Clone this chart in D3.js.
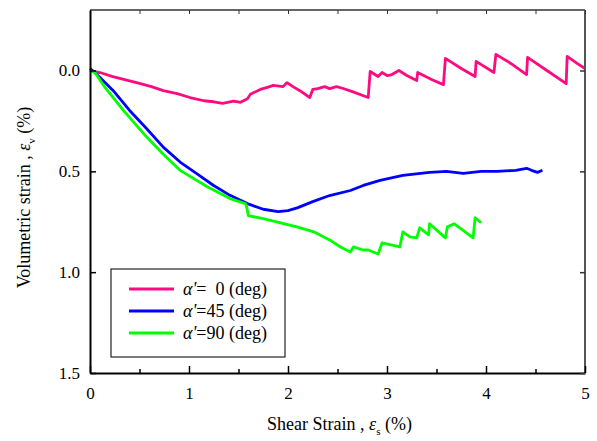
<!DOCTYPE html>
<html>
<head>
<meta charset="utf-8">
<script src="https://cdn.jsdelivr.net/npm/d3@7/dist/d3.min.js"></script>
<style>
  html, body { margin: 0; padding: 0; background: #fff; }
  svg { display: block; }
</style>
</head>
<body>
<svg id="chart" width="597" height="441" font-family="Liberation Serif"></svg>
<script>
// Volumetric vs. shear strain for three loading directions (alpha')
const seriesNames = ["0", "45", "90"];
const seriesColors = ["#ff0a80", "#0000ff", "#00ff00"];
const FONT = "Liberation Serif";

// [shear strain %, volumetric strain %]
const alpha0 = [
  [0.00, 0.00], [0.10, 0.01], [0.23, 0.03], [0.35, 0.045], [0.50, 0.064], [0.62, 0.08],
  [0.74, 0.10], [0.88, 0.115], [1.01, 0.134], [1.15, 0.15], [1.25, 0.155], [1.34, 0.163],
  [1.45, 0.152], [1.52, 0.158], [1.59, 0.14], [1.62, 0.118], [1.72, 0.094], [1.80, 0.082],
  [1.85, 0.074], [1.95, 0.08], [1.99, 0.06], [2.05, 0.08], [2.12, 0.10], [2.22, 0.134],
  [2.25, 0.094], [2.30, 0.09], [2.37, 0.08], [2.42, 0.09], [2.49, 0.08], [2.55, 0.088],
  [2.65, 0.105], [2.81, 0.134], [2.83, 0.005], [2.91, 0.03], [2.95, 0.01], [3.00, 0.025],
  [3.05, 0.02], [3.12, 0.00], [3.20, 0.025], [3.30, 0.05], [3.31, 0.01], [3.45, 0.045],
  [3.57, 0.07], [3.59, -0.06], [3.75, -0.01], [3.89, 0.03], [3.90, -0.045], [4.08, 0.01],
  [4.10, -0.08], [4.25, -0.035], [4.41, 0.02], [4.42, -0.065], [4.60, -0.005], [4.81, 0.065],
  [4.82, -0.07], [4.92, -0.035], [5.00, -0.01]
];

const alpha45 = [
  [0.00, -0.01], [0.05, 0.01], [0.235, 0.10], [0.40, 0.198], [0.573, 0.289], [0.74, 0.38],
  [0.91, 0.454], [1.078, 0.511], [1.245, 0.569], [1.414, 0.619], [1.59, 0.66], [1.75, 0.688],
  [1.90, 0.70], [2.00, 0.695], [2.10, 0.68], [2.25, 0.65], [2.42, 0.62], [2.63, 0.595],
  [2.76, 0.57], [2.93, 0.545], [3.16, 0.52], [3.43, 0.505], [3.60, 0.50], [3.77, 0.51],
  [3.95, 0.50], [4.11, 0.50], [4.30, 0.495], [4.41, 0.485], [4.46, 0.495], [4.52, 0.505],
  [4.57, 0.495]
];

const alpha90 = [
  [0.00, 0.00], [0.05, 0.01], [0.15, 0.083], [0.337, 0.198], [0.573, 0.33], [0.74, 0.415],
  [0.91, 0.495], [1.078, 0.545], [1.18, 0.575], [1.414, 0.635], [1.57, 0.66], [1.58, 0.67],
  [1.60, 0.72], [1.75, 0.735], [2.09, 0.775], [2.26, 0.80], [2.42, 0.84], [2.53, 0.875],
  [2.63, 0.90], [2.66, 0.875], [2.76, 0.89], [2.81, 0.89], [2.91, 0.91], [2.95, 0.855],
  [3.13, 0.875], [3.16, 0.80], [3.23, 0.825], [3.30, 0.83], [3.33, 0.78], [3.42, 0.815],
  [3.43, 0.76], [3.59, 0.83], [3.61, 0.775], [3.68, 0.76], [3.87, 0.83], [3.89, 0.73],
  [3.95, 0.755]
];

const seriesData = [alpha0, alpha45, alpha90];
const xTicks = [0, 1, 2, 3, 4, 5];
const xMinorTicks = [0.5, 1.5, 2.5, 3.5, 4.5];
const yTicks = [0.0, 0.5, 1.0, 1.5];

const svg = d3.select("#chart");
const margin = { left: 90, right: 12, top: 10, bottom: 68 };
const W = 597, H = 441;
const x = d3.scaleLinear().domain([0, 5]).range([margin.left, W - margin.right]);
const y = d3.scaleLinear().domain([-0.3, 1.5]).range([margin.top, H - margin.bottom]);

// Curves
const line = d3.line().x(d => x(d[0])).y(d => y(d[1]));
svg.append("g").selectAll("path")
  .data(seriesData)
  .join("path")
  .attr("d", line)
  .attr("fill", "none")
  .attr("stroke", (d, i) => seriesColors[i])
  .attr("stroke-width", 2.8)
  .attr("stroke-linejoin", "round");

// Frame: top and right edges
svg.append("line").attr("x1", x(0)).attr("x2", x(5)).attr("y1", y(-0.3)).attr("y2", y(-0.3))
  .attr("stroke", "#333").attr("stroke-width", 1.5);
svg.append("line").attr("x1", x(5)).attr("x2", x(5)).attr("y1", y(-0.3)).attr("y2", y(1.5))
  .attr("stroke", "#555").attr("stroke-width", 2);

// Bottom axis (ticks point inward)
const xAxis = svg.append("g").attr("transform", `translate(0,${y(1.5)})`)
  .call(d3.axisBottom(x).tickValues(xTicks).tickFormat(d3.format("d")).tickSizeInner(-7).tickSizeOuter(0).tickPadding(14));
xAxis.attr("font-family", FONT);
xAxis.select(".domain").attr("stroke", "#000").attr("stroke-width", 2);
xAxis.selectAll(".tick line").attr("stroke-width", 1.5);
xAxis.selectAll("text").attr("font-size", 17).attr("fill", "#000").attr("font-family", FONT);
svg.append("g").attr("transform", `translate(0,${y(1.5)})`)
  .call(d3.axisBottom(x).tickValues(xMinorTicks).tickFormat("").tickSizeInner(-4).tickSizeOuter(0))
  .call(g => g.select(".domain").remove())
  .selectAll(".tick line").attr("stroke-width", 1.5);

// Top edge ticks
svg.append("g").attr("transform", `translate(0,${y(-0.3)})`)
  .call(d3.axisTop(x).tickValues(xTicks.concat(xMinorTicks)).tickFormat("").tickSizeInner(-4).tickSizeOuter(0))
  .call(g => g.select(".domain").remove())
  .selectAll(".tick line").attr("stroke", "#333");

// Left axis
const yAxis = svg.append("g").attr("transform", `translate(${x(0)},0)`)
  .call(d3.axisLeft(y).tickValues(yTicks).tickFormat(d3.format(".1f")).tickSizeInner(-6).tickSizeOuter(0).tickPadding(10));
yAxis.attr("font-family", FONT);
yAxis.select(".domain").attr("stroke", "#000").attr("stroke-width", 2);
yAxis.selectAll(".tick line").attr("stroke-width", 1.5);
yAxis.selectAll("text").attr("font-size", 17).attr("fill", "#000").attr("font-family", FONT);

// Right edge ticks
svg.append("g").attr("transform", `translate(${x(5)},0)`)
  .call(d3.axisRight(y).tickValues(yTicks).tickFormat("").tickSizeInner(-5).tickSizeOuter(0))
  .call(g => g.select(".domain").remove())
  .selectAll(".tick line").attr("stroke", "#333").attr("stroke-width", 1.5);

// Axis titles
const xTitle = svg.append("text")
  .attr("x", (x(0) + x(5)) / 2 + 2).attr("y", 430)
  .attr("text-anchor", "middle").attr("font-size", 18).attr("fill", "#000").attr("font-family", FONT);
xTitle.append("tspan").text("Shear Strain , ");
xTitle.append("tspan").attr("font-style", "italic").text("ε");
xTitle.append("tspan").attr("font-size", 11).attr("dy", 5).text("s");
xTitle.append("tspan").attr("dy", -5).text(" (%)");

const yTitle = svg.append("text")
  .attr("transform", `translate(30,${(y(-0.3) + y(1.5)) / 2 + 6}) rotate(-90)`)
  .attr("text-anchor", "middle").attr("font-size", 18).attr("fill", "#000").attr("font-family", FONT);
yTitle.append("tspan").text("Volumetric strain , ");
yTitle.append("tspan").attr("font-style", "italic").text("ε");
yTitle.append("tspan").attr("font-size", 11).attr("dy", 5).text("v");
yTitle.append("tspan").attr("dy", -5).text(" (%)");

// Legend
const lg = svg.append("g").attr("transform", "translate(111,269)");
lg.append("rect").attr("width", 174).attr("height", 88)
  .attr("fill", "#fff").attr("stroke", "#222").attr("stroke-width", 1.2);
const labels = ["=\u00a0\u00a00 (deg)", "=45 (deg)", "=90 (deg)"];
seriesNames.forEach((n, i) => {
  const cy = 20 + i * 22;
  lg.append("line").attr("x1", 18).attr("x2", 63).attr("y1", cy).attr("y2", cy)
    .attr("stroke", seriesColors[i]).attr("stroke-width", 3);
  const t = lg.append("text").attr("x", 72).attr("y", cy + 6)
    .attr("font-size", 18).attr("fill", "#000").attr("font-family", FONT);
  t.append("tspan").attr("font-style", "italic").text("α'");
  t.append("tspan").text(labels[i]);
});
</script>
</body>
</html>
